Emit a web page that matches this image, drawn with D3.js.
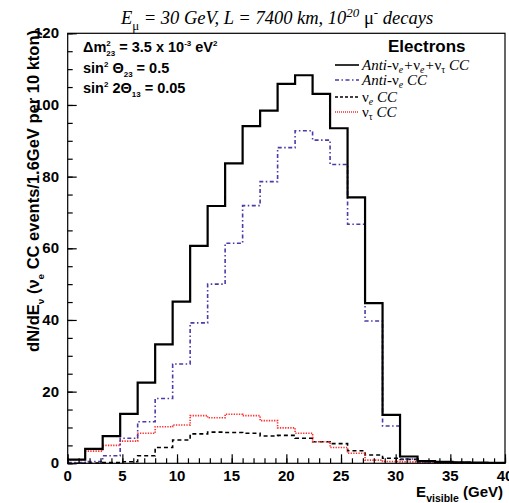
<!DOCTYPE html>
<html>
<head>
<meta charset="utf-8">
<script src="https://cdn.jsdelivr.net/npm/d3@7/dist/d3.min.js"></script>
<style>
  body { margin: 0; background: #fff; }
  svg { display: block; }
</style>
</head>
<body>
<div id="chart"></div>
<script>
// 直方图数据 (1.6 GeV 一个 bin)
const binLow = [0, 1.6, 3.2, 4.8, 6.4, 8.0, 9.6, 11.2, 12.8, 14.4, 16.0, 17.6, 19.2,
                20.8, 22.4, 24.0, 25.6, 27.2, 28.8, 30.4, 32.0, 33.6, 35.2, 36.8, 38.4];
const binHigh = 40;

// Anti-nu_e + nu_e + nu_tau CC
const totalCC = [1.0, 4.0, 7.6, 13.8, 22.5, 33.2, 45.1, 60.7, 71.8, 83.7, 94.1, 98.4, 105.9,
                 108.3, 103.1, 93.5, 74.2, 44.7, 13.5, 1.9, 0.6, 0.4, 0.3, 0.2, 0.1];
// Anti-nu_e CC
const antiNueCC = [0.2, 0.5, 2.1, 7.0, 11.6, 18.1, 27.7, 39.2, 50.0, 61.4, 71.9, 78.6, 88.1,
                   92.8, 90.2, 83.4, 66.7, 39.7, 10.4, 1.2, 0.4, 0.3, 0.2, 0.1, 0.1];
// nu_e CC
const nueCC = [0.0, 0.1, 0.2, 0.45, 2.1, 4.4, 6.5, 8.2, 8.7, 8.6, 8.4, 7.6, 7.8,
               7.0, 6.0, 5.5, 3.5, 2.3, 1.4, 1.1, 0.6, 0.3, 0.2, 0.1, 0.1];
// nu_tau CC
const nutauCC = [1.0, 3.4, 5.0, 6.2, 8.4, 10.2, 10.7, 13.3, 12.7, 13.7, 13.3, 11.9, 9.9,
                 8.4, 6.0, 4.4, 2.8, 0.9, 0.5, 0.4, 0.2, 0.1, 0.1, 0.1, 0.05];

// 坐标轴刻度
const xTicks = [0, 5, 10, 15, 20, 25, 30, 35, 40];
const yTicks = [0, 20, 40, 60, 80, 100, 120];

const width = 509, height = 503;
const svg = d3.select('#chart').append('svg')
    .attr('width', width)
    .attr('height', height);

const xScale = d3.scaleLinear().domain([0, 40]).range([67.7, 505]);
const yScale = d3.scaleLinear().domain([0, 120]).range([463.3, 33.3]);

const SANS = "'Liberation Sans', Arial, sans-serif";
const SERIF = "'Liberation Serif', 'Times New Roman', serif";

// 带上下标的文字
function richText(sel, parts, size, scriptScale = 0.7, subShift = 0.3) {
    let shift = 0;
    parts.forEach(p => {
        const [txt, kind, extra] = p;
        let target = 0, fs = size;
        if (kind === 'sub') { target = size * subShift; fs = size * scriptScale; }
        if (kind === 'sup') { target = -size * 0.4; fs = size * scriptScale; }
        const t = sel.append('tspan')
            .attr('dy', target - shift)
            .style('font-size', fs + 'px')
            .text(txt);
        if (extra) Object.entries(extra).forEach(([k, v]) => {
            if (k === 'dx') t.attr('dx', v); else t.style(k, v);
        });
        shift = target;
    });
}

// 直方图
const step = d3.line()
    .x(d => xScale(d[0]))
    .y(d => yScale(d[1]))
    .curve(d3.curveStepAfter);

function histPoints(vals) {
    const pts = binLow.map((lo, i) => [lo, vals[i]]);
    pts.push([binHigh, vals[vals.length - 1]]);
    return pts;
}

const plot = svg.append('g');
plot.append('path')
    .attr('d', step(histPoints(nueCC)))
    .style('fill', 'none').style('stroke', '#000')
    .style('stroke-width', 1.6).style('stroke-dasharray', '4,3');
plot.append('path')
    .attr('d', step(histPoints(nutauCC)))
    .style('fill', 'none').style('stroke', '#ff2a2a')
    .style('stroke-width', 1.6).style('stroke-dasharray', '1.3,1.3');
plot.append('path')
    .attr('d', step(histPoints(antiNueCC)))
    .style('fill', 'none').style('stroke', '#4b3aa8')
    .style('stroke-width', 1.6).style('stroke-dasharray', '4,2.5,1.5,2.5');
plot.append('path')
    .attr('d', step(histPoints(totalCC)))
    .style('fill', 'none').style('stroke', '#000')
    .style('stroke-width', 2.2);

// 边框
svg.append('rect')
    .attr('x', xScale(0)).attr('y', yScale(120))
    .attr('width', xScale(40) - xScale(0))
    .attr('height', yScale(0) - yScale(120))
    .style('fill', 'none').style('stroke', '#000').style('stroke-width', 1.2);

// x 轴 (刻度朝内)
const xAxis = svg.append('g').attr('transform', `translate(0,${yScale(0)})`);
xAxis.call(d3.axisTop(xScale).ticks(40).tickSize(5).tickFormat(''));
xAxis.call(g => g.select('.domain').remove());
xAxis.selectAll('line').style('stroke', '#000').style('stroke-width', 1.2);
const xMajor = svg.append('g').attr('transform', `translate(0,${yScale(0)})`);
xMajor.call(d3.axisTop(xScale).tickValues(xTicks).tickSize(9).tickFormat(''));
xMajor.call(g => g.select('.domain').remove());
xMajor.selectAll('line').style('stroke', '#000').style('stroke-width', 1.2);
svg.append('g').selectAll('text').data(xTicks).enter().append('text')
    .attr('x', d => xScale(d)).attr('y', 481)
    .attr('text-anchor', 'middle')
    .style('font-family', SANS).style('font-weight', 'bold').style('font-size', '15px')
    .text(d => d);

// y 轴
const yAxis = svg.append('g').attr('transform', `translate(${xScale(0)},0)`);
yAxis.call(d3.axisRight(yScale).ticks(30).tickSize(5).tickFormat(''));
yAxis.call(g => g.select('.domain').remove());
yAxis.selectAll('line').style('stroke', '#000').style('stroke-width', 1.2);
const yMajor = svg.append('g').attr('transform', `translate(${xScale(0)},0)`);
yMajor.call(d3.axisRight(yScale).tickValues(yTicks).tickSize(9).tickFormat(''));
yMajor.call(g => g.select('.domain').remove());
yMajor.selectAll('line').style('stroke', '#000').style('stroke-width', 1.2);
svg.append('g').selectAll('text').data(yTicks).enter().append('text')
    .attr('x', 59).attr('y', d => yScale(d) + 5)
    .attr('text-anchor', 'end')
    .style('font-family', SANS).style('font-weight', 'bold').style('font-size', '15px')
    .text(d => d);

// 轴标题
const xt = svg.append('text')
    .attr('x', 503).attr('y', 497).attr('text-anchor', 'end')
    .style('font-family', SANS).style('font-weight', 'bold').style('font-size', '15px');
richText(xt, [['E'], ['visible', 'sub'], [' (GeV)']], 15);

const yt = svg.append('text')
    .attr('transform', 'translate(39,30) rotate(-90)')
    .attr('text-anchor', 'end')
    .style('font-family', SANS).style('font-weight', 'bold').style('font-size', '16.5px');
richText(yt, [['dN/dE'], ['\u03bd', 'sub'], [' (\u03bd'], ['e', 'sub'], [' CC events/1.6GeV per 10 kton)']], 16.5, 0.6);

// 标题
const title = svg.append('text')
    .attr('x', 277).attr('y', 24).attr('text-anchor', 'middle')
    .style('font-family', SERIF).style('font-style', 'italic').style('font-size', '18.5px');
richText(title, [['E'], ['\u03bc', 'sub', { 'font-style': 'normal' }],
    [' = 30 GeV, L = 7400 km, 10'], ['20', 'sup'], [' '], ['\u03bc', 'n', { 'font-style': 'normal' }],
    ['-', 'sup'], [' decays']], 18.5);

// 参数文字 (上下标叠放)
const params = [
    [['\u0394m'], ['2', 'sup'], ['23', 'sub', { dx: -4.4 }], [' = 3.5 x 10'], ['-3', 'sup'], [' eV'], ['2', 'sup']],
    [['sin'], ['2', 'sup'], [' \u0398'], ['23', 'sub'], [' = 0.5']],
    [['sin'], ['2', 'sup'], [' 2\u0398'], ['13', 'sub'], [' = 0.05']]
];
const paramY = [52, 73, 93];
params.forEach((p, i) => {
    const t = svg.append('text')
        .attr('x', 83).attr('y', paramY[i])
        .style('font-family', SANS).style('font-weight', 'bold').style('font-size', '14.5px');
    richText(t, p, 14.5, 0.55);
});

svg.append('text')
    .attr('x', 388).attr('y', 52)
    .style('font-family', SANS).style('font-weight', 'bold').style('font-size', '17px')
    .text('Electrons');

// 图例
const legendItems = [
    { parts: [['Anti-'], ['\u03bd', 'n', { 'font-style': 'normal' }], ['e', 'sub'], ['+'],
              ['\u03bd', 'n', { 'font-style': 'normal' }], ['e', 'sub'], ['+'],
              ['\u03bd', 'n', { 'font-style': 'normal' }], ['\u03c4', 'sub', { 'font-style': 'normal' }], [' CC']],
      stroke: '#000', dash: null, w: 1.6 },
    { parts: [['Anti-'], ['\u03bd', 'n', { 'font-style': 'normal' }], ['e', 'sub'], [' CC']],
      stroke: '#4b3aa8', dash: '4,2.5,1.5,2.5', w: 1.3 },
    { parts: [['\u03bd', 'n', { 'font-style': 'normal' }], ['e', 'sub'], [' CC']],
      stroke: '#000', dash: '3,2', w: 1.3 },
    { parts: [['\u03bd', 'n', { 'font-style': 'normal' }], ['\u03c4', 'sub', { 'font-style': 'normal' }], [' CC']],
      stroke: '#ff2a2a', dash: '1,1', w: 1.3 }
];
const legendY = [65, 80, 97, 112];
legendItems.forEach((it, i) => {
    svg.append('line')
        .attr('x1', 335).attr('x2', 359)
        .attr('y1', legendY[i]).attr('y2', legendY[i])
        .style('stroke', it.stroke).style('stroke-width', it.w)
        .style('stroke-dasharray', it.dash);
    const t = svg.append('text')
        .attr('x', 362).attr('y', legendY[i] + 5)
        .style('font-family', SERIF).style('font-style', 'italic').style('font-size', '15px');
    richText(t, it.parts, 15, 0.65, 0.22);
});
</script>
</body>
</html>
